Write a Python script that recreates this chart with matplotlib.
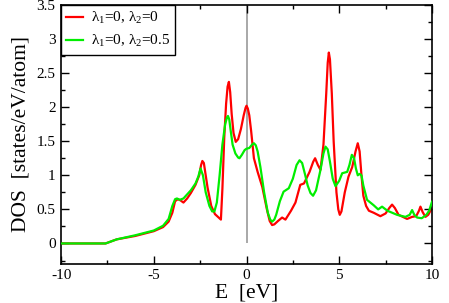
import matplotlib
matplotlib.use("Agg")
import matplotlib.pyplot as plt
from matplotlib.ticker import MultipleLocator

plt.rcParams["font.family"] = ["Liberation Serif", "DejaVu Serif"]
plt.rcParams["mathtext.fontset"] = "custom"
plt.rcParams["mathtext.rm"] = "Liberation Serif"
plt.rcParams["axes.unicode_minus"] = False

# DOS, lambda1=0, lambda2=0 (red)
e_red = [-10, -7.6, -7.0, -6.0, -5.0, -4.5, -4.2, -4.0, -3.85, -3.7, -3.55, -3.4,
         -3.2, -3.0, -2.75, -2.55, -2.45, -2.38, -2.3, -2.2, -2.1, -1.9, -1.7, -1.5,
         -1.38, -1.3, -1.2, -1.1, -1.02, -0.95, -0.88, -0.8, -0.7, -0.58, -0.45,
         -0.3, -0.15, -0.05, 0.0, 0.07, 0.15, 0.25, 0.4, 0.6, 0.85, 1.1, 1.25, 1.38,
         1.5, 1.7, 1.92, 2.1, 2.4, 2.64, 2.9, 3.1, 3.4, 3.6, 3.7, 3.85, 3.99, 4.15,
         4.3, 4.38, 4.44, 4.5, 4.6, 4.7, 4.85, 4.95, 5.03, 5.12, 5.3, 5.5, 5.7,
         5.88, 6.0, 6.1, 6.2, 6.3, 6.45, 6.6, 6.86, 7.22, 7.5, 7.7, 7.85, 8.0,
         8.2, 8.66, 8.93, 9.15, 9.3, 9.38, 9.5, 9.65, 9.8, 10]
dos_red = [0, 0, 0.06, 0.11, 0.18, 0.24, 0.32, 0.45, 0.62, 0.65, 0.63, 0.60,
           0.66, 0.74, 0.86, 1.0, 1.15, 1.21, 1.18, 1.0, 0.82, 0.55, 0.43, 0.38,
           0.35, 0.8, 1.55, 2.05, 2.3, 2.37, 2.22, 1.9, 1.62, 1.49, 1.53,
           1.68, 1.88, 1.99, 2.02, 1.98, 1.88, 1.65, 1.25, 1.05, 0.83, 0.5, 0.33, 0.27,
           0.28, 0.33, 0.38, 0.35, 0.48, 0.6, 0.86, 0.88, 1.05, 1.2, 1.25, 1.15, 1.08, 1.45,
           2.2, 2.65, 2.80, 2.7, 2.2, 1.5, 0.75, 0.5, 0.42, 0.47, 0.75, 0.98, 1.12,
           1.35, 1.47, 1.35, 1.0, 0.7, 0.55, 0.48, 0.45, 0.40, 0.44, 0.52, 0.57, 0.52,
           0.42, 0.36, 0.39, 0.40, 0.48, 0.54, 0.46, 0.39, 0.42, 0.52]

# DOS, lambda1=0, lambda2=0.5 (green)
e_green = [-10, -7.6, -7.0, -6.0, -5.0, -4.5, -4.2, -4.0, -3.85, -3.75, -3.6, -3.4,
           -3.2, -3.0, -2.75, -2.6, -2.48, -2.35, -2.2, -2.0, -1.85, -1.73, -1.6,
           -1.45, -1.3, -1.15, -1.05, -1.0, -0.93, -0.85, -0.75, -0.6, -0.45, -0.38,
           -0.25, -0.1, 0.0, 0.15, 0.3, 0.4, 0.5, 0.6, 0.75, 0.95, 1.15, 1.28, 1.38,
           1.5, 1.6, 1.8, 2.0, 2.28, 2.5, 2.7, 2.86, 3.0, 3.15, 3.3, 3.45, 3.59, 3.75,
           3.99, 4.15, 4.26, 4.38, 4.5, 4.65, 4.8, 5.0, 5.16, 5.43, 5.55, 5.68, 5.8,
           5.9, 6.0, 6.1, 6.2, 6.3, 6.5, 6.86, 7.1, 7.31, 7.6, 8.12, 8.57, 8.8, 8.93,
           9.05, 9.2, 9.45, 9.7, 9.85, 10]
dos_green = [0, 0, 0.06, 0.12, 0.19, 0.26, 0.36, 0.55, 0.65, 0.66, 0.64, 0.66,
             0.72, 0.78, 0.88, 0.98, 1.10, 1.0, 0.75, 0.55, 0.47, 0.47, 0.6,
             1.0, 1.45, 1.75, 1.85, 1.87, 1.82, 1.65, 1.45, 1.32, 1.26, 1.25,
             1.3, 1.37, 1.39, 1.40, 1.45, 1.47, 1.44, 1.35, 1.12, 0.75, 0.45, 0.35, 0.32,
             0.35, 0.42, 0.62, 0.76, 0.81, 0.95, 1.15, 1.22, 1.18, 1.02, 0.85, 0.74, 0.70, 0.78,
             1.08, 1.32, 1.42, 1.38, 1.2, 0.95, 0.84, 0.92, 1.03, 1.05, 1.15, 1.30, 1.25,
             1.1, 1.0, 1.02, 1.0, 0.85, 0.64, 0.56, 0.50, 0.54, 0.48, 0.42, 0.39, 0.42, 0.49,
             0.42, 0.38, 0.37, 0.42, 0.48, 0.61]

labels = [r"$\mathregular{λ_1}$=0, $\mathregular{λ_2}$=0",
          r"$\mathregular{λ_1}$=0, $\mathregular{λ_2}$=0.5"]

fig = plt.figure(figsize=(4.49, 3.03), dpi=100)
ax = fig.add_axes([0.136, 0.129, 0.826, 0.855])

ax.vlines(0, 0, 3.5, color="#999999", linewidth=1.2, zorder=1)
ax.plot(e_red, dos_red, color="#ff0000", linewidth=1.6, label=labels[0], zorder=2)
ax.plot(e_green, dos_green, color="#00ee00", linewidth=1.6, label=labels[1], zorder=3)

ax.set_xlim(-10, 10)
ax.set_ylim(-0.3, 3.5)
ax.xaxis.set_major_locator(MultipleLocator(5))
ax.xaxis.set_minor_locator(MultipleLocator(2.5))
ax.yaxis.set_minor_locator(MultipleLocator(0.25))
ax.set_yticks([0, 0.5, 1, 1.5, 2, 2.5, 3, 3.5])
ax.set_yticklabels(["0", "0.5", "1", "1.5", "2", "2.5", "3", "3.5"])
ax.tick_params(which="both", direction="in", top=True, right=True, labelsize=11, pad=4)
ax.tick_params(which="major", length=6, width=1)
ax.tick_params(which="minor", length=3, width=1)
for s in ax.spines.values():
    s.set_linewidth(1.2)

ax.set_xlabel("E  [eV]", fontsize=15.5, labelpad=1)
ax.set_ylabel("DOS  [states/eV/atom]", fontsize=15.5, labelpad=4)

leg = ax.legend(loc="upper left", borderaxespad=0, fancybox=False, framealpha=1,
                edgecolor="black", fontsize=11, handlelength=1.1, handletextpad=0.5,
                borderpad=0.35, labelspacing=0.45)
leg.get_frame().set_linewidth(1.0)

fig.savefig("out.png", dpi=100)
